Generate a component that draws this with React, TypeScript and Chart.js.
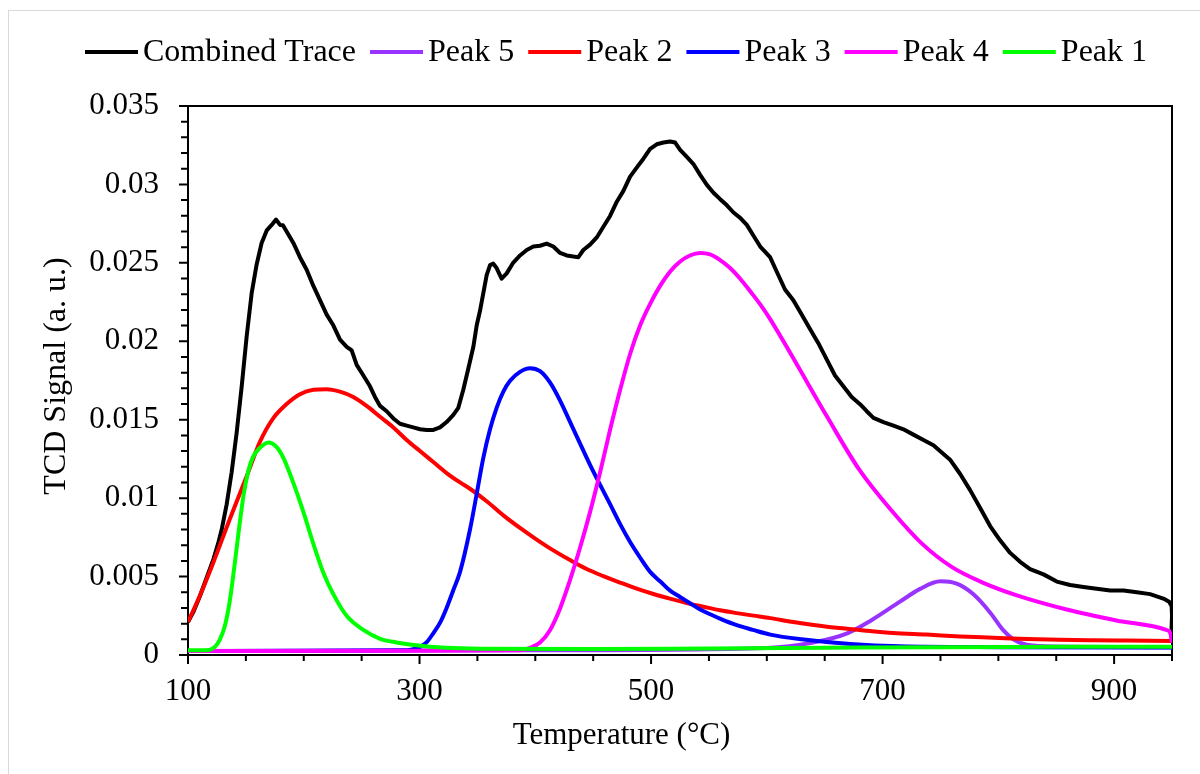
import { useEffect, useRef } from 'react';
import { Chart, registerables } from 'chart.js';

Chart.register(...registerables);

const FONT = '"Liberation Serif", "Times New Roman", serif';

// ---------- data (temperature in °C, TCD signal in a.u.) ----------
const combinedT = [
  100, 105, 110, 115, 121.9, 126, 129.1, 133.4, 137.7, 142, 146.4, 150.7, 155, 159.3, 163.6, 168, 172.3, 176,
  179.5, 182, 185.2, 191, 196.7, 202.5, 208.3, 214, 219.8, 225.5, 231.3, 237.1, 241.4, 245.7, 251.5, 257.2,
  261.5, 265.9, 271.6, 277.4, 283.1, 288.9, 294.6, 300.4, 306.2, 311.9, 317.7, 323.4, 329.2, 333.5, 337.8,
  342.2, 346.5, 349.4, 352.2, 355.1, 358, 360.9, 363.7, 366.6, 370.9, 375.3, 381, 386.8, 392.6, 398.3, 404.1,
  409.8, 415.6, 421.4, 427.1, 432.9, 437.2, 441.5, 447.3, 453.1, 458.8, 464.6, 470.4, 476.1, 481.9, 487.6,
  493.4, 499.2, 504.9, 510.7, 516.4, 520.8, 525.1, 530.9, 536.6, 542.4, 548.2, 553.9, 559.7, 565.5, 571.2,
  577, 582.7, 588.5, 594.3, 602.8, 608.5, 615.7, 622.9, 630.1, 637.3, 644.5, 651.7, 658.9, 666.1, 673.3,
  680.5, 686.3, 692.1, 700.7, 709.4, 718, 726.6, 735.3, 743.9, 751.1, 758.3, 767, 775.6, 784.3, 792.9, 801.5,
  810.2, 818.8, 827.4, 839, 850.5, 862, 873.5, 885, 896.6, 908.1, 919.6, 931.1, 942.5, 947.5, 949.7, 950, 949.6,
];
const combinedV = [
  0.0021, 0.0028, 0.0037, 0.0047, 0.0061, 0.0071, 0.008, 0.0096, 0.01165, 0.01416, 0.01713, 0.02033, 0.02307,
  0.0249, 0.02627, 0.02707, 0.02742, 0.02776, 0.02742, 0.0274, 0.027, 0.02627, 0.02536, 0.02456, 0.02353,
  0.02262, 0.0217, 0.02102, 0.0201, 0.01965, 0.01942, 0.0185, 0.01782, 0.01713, 0.01645, 0.01588, 0.01554,
  0.01508, 0.01474, 0.01462, 0.01451, 0.01439, 0.01435, 0.01435, 0.01451, 0.01485, 0.01531, 0.01576, 0.01691,
  0.01828, 0.01965, 0.02102, 0.02193, 0.02307, 0.02422, 0.02486, 0.02495, 0.02467, 0.02399, 0.02433, 0.02502,
  0.02547, 0.02582, 0.02604, 0.02609, 0.02623, 0.02604, 0.02563, 0.02547, 0.0254, 0.02536, 0.02582, 0.02616,
  0.02662, 0.0273, 0.02799, 0.0289, 0.02959, 0.0305, 0.03107, 0.03164, 0.03226, 0.03256, 0.03267, 0.03274,
  0.03267, 0.03221, 0.03176, 0.0313, 0.03061, 0.02997, 0.02947, 0.02906, 0.02867, 0.02821, 0.02787, 0.02742,
  0.02673, 0.02604, 0.02536, 0.02445, 0.0233, 0.02262, 0.0217, 0.02079, 0.01988, 0.01885, 0.01782, 0.01713,
  0.01645, 0.01599, 0.01554, 0.01512, 0.01485, 0.01462, 0.01439, 0.01405, 0.01371, 0.01337, 0.01291, 0.01245,
  0.01154, 0.01051, 0.00937, 0.00822, 0.00731, 0.00651, 0.00594, 0.00548, 0.00514, 0.00468, 0.00446, 0.00434,
  0.00423, 0.00411, 0.00411, 0.004, 0.00388, 0.0036, 0.0034, 0.0031, 0.0025, 0.0016,
];

const peak5T = [100, 400, 600, 640, 670, 690, 715, 732, 750, 764, 778, 793, 804, 813, 822, 840, 950];
const peak5V = [0.00025, 0.0003, 0.00045, 0.0008, 0.0014, 0.0022, 0.0034, 0.0042, 0.0047, 0.00455, 0.0039, 0.0027, 0.0016, 0.001, 0.0007, 0.00055, 0.0005];

const peak2T = [
  100, 110.4, 121.9, 136.3, 150.7, 162.2, 173.7, 185.2, 196.7, 208.3, 219.8, 231.3, 242.8, 254.3, 265.9, 277.4,
  288.9, 300.4, 311.9, 323.4, 335, 343.6, 358, 372.4, 386.8, 401.2, 415.6, 430, 444.4, 458.8, 473.2, 487.6, 502,
  516.4, 530.8, 545.2, 559.7, 574.1, 588.5, 603, 623, 652, 680, 709, 738, 767, 796, 825, 853, 882, 911, 950,
];
const peak2V = [
  0.0021, 0.0038, 0.0059, 0.0087, 0.0114, 0.0136, 0.0151, 0.016, 0.01663, 0.01691, 0.01695, 0.01679, 0.01645,
  0.01588, 0.01519, 0.01451, 0.01371, 0.013, 0.0123, 0.0116, 0.011, 0.0106, 0.0098, 0.0089, 0.0081, 0.00736,
  0.00667, 0.00605, 0.00548, 0.00503, 0.00462, 0.00423, 0.00389, 0.00359, 0.00331, 0.00308, 0.00285, 0.00267,
  0.00251, 0.00235, 0.0021, 0.0018, 0.0016, 0.0014, 0.0013, 0.00118, 0.0011, 0.00102, 0.00097, 0.00094, 0.00092,
  0.0009,
];

const peak3T = [
  100, 200, 290, 300, 306, 312, 318, 323.4, 329, 335, 343.6, 349.4, 355.1, 360.9, 366.6, 372.4, 378.2, 386.8,
  395.5, 404.1, 412.8, 421.4, 430.1, 438.7, 447.4, 456, 464.7, 473.3, 481.9, 490.6, 499.2, 507.8, 516.5, 525,
  533.7, 542.4, 551, 560, 574, 588, 603, 630, 672, 715, 800, 950,
];
const peak3V = [
  0.00025, 0.00027, 0.0003, 0.0005, 0.0008, 0.0014, 0.0021, 0.003, 0.0041, 0.0053, 0.008, 0.01028, 0.01257,
  0.01439, 0.01576, 0.01679, 0.01748, 0.01805, 0.01828, 0.01809, 0.01736, 0.01622, 0.01485, 0.01348, 0.01211,
  0.01085, 0.0096, 0.00834, 0.0072, 0.0062, 0.0053, 0.0047, 0.0041, 0.0037, 0.0033, 0.0029, 0.0026, 0.0023,
  0.0019, 0.0016, 0.0013, 0.001, 0.0007, 0.00055, 0.0005, 0.00048,
];

const peak4T = [
  100, 300, 386.8, 395.5, 404.1, 412.8, 421.4, 430.1, 438.7, 447.4, 456, 464.7, 473.3, 481.9, 490.6, 499.2,
  507.8, 516.5, 525.1, 533.6, 542.4, 551, 559.7, 568.3, 577, 585.6, 594.3, 603, 623, 652, 680, 709, 734, 760,
  787, 816, 859, 902, 945, 948.5, 950,
];
const peak4V = [
  0.00025, 0.00027, 0.0003, 0.00046, 0.0008, 0.0016, 0.00297, 0.0048, 0.00685, 0.00914, 0.01165, 0.01439,
  0.01691, 0.01919, 0.02102, 0.02239, 0.02353, 0.02445, 0.02509, 0.02547, 0.02563, 0.02554, 0.02518, 0.02467,
  0.02399, 0.02319, 0.02235, 0.0214, 0.0189, 0.0152, 0.0118, 0.0091, 0.0071, 0.0056, 0.0046, 0.0038, 0.0029,
  0.0022, 0.0016, 0.0014, 0.0008,
];

const peak1T = [
  100, 110, 118, 123, 127.6, 132, 136, 140, 144, 148, 152, 156, 162, 169.5, 176.6, 182.4, 191, 199.6, 208.3,
  216.9, 225.5, 237, 251.5, 266, 280, 295, 323, 352, 450, 550, 650, 750, 850, 950,
];
const peak1V = [
  0.0003, 0.0003, 0.00032, 0.0005, 0.001, 0.0019, 0.0034, 0.0056, 0.008, 0.0102, 0.0117, 0.0126, 0.0132,
  0.01355, 0.01325, 0.01257, 0.01097, 0.00914, 0.00708, 0.00525, 0.00388, 0.0025, 0.0016, 0.00103, 0.0008,
  0.00064, 0.00046, 0.0004, 0.00038, 0.00042, 0.00046, 0.0005, 0.00052, 0.00053,
];

const xMajorTicks = [100, 300, 500, 700, 900];
const yMajorTicks = [0, 0.005, 0.01, 0.015, 0.02, 0.025, 0.03, 0.035];
const xMinorStep = 50;
const yMinorStep = 0.001;

const xTitle = 'Temperature (°C)';
const yTitle = 'TCD Signal (a. u.)';

const seriesNames = ['Combined Trace', 'Peak 5', 'Peak 2', 'Peak 3', 'Peak 4', 'Peak 1'];
const seriesColors = ['#000000', '#9933FF', '#FF0000', '#0000FF', '#FF00FF', '#00FF00'];
const seriesT = [combinedT, peak5T, peak2T, peak3T, peak4T, peak1T];
const seriesV = [combinedV, peak5V, peak2V, peak3V, peak4V, peak1V];

// ---------- plugins ----------
const frameAndTicks = {
  id: 'frameAndTicks',
  beforeDatasetsDraw(chart: any) {
    const { ctx, chartArea: a } = chart;
    const xs = chart.scales.x;
    const ys = chart.scales.y;
    ctx.save();
    ctx.strokeStyle = '#000';
    ctx.lineWidth = 2;
    ctx.strokeRect(a.left, a.top, a.right - a.left, a.bottom - a.top);
    ctx.beginPath();
    const nx = Math.round((xs.max - xs.min) / xMinorStep);
    for (let i = 0; i <= nx; i++) {
      const v = xs.min + i * xMinorStep;
      const px = xs.getPixelForValue(v);
      const major = xMajorTicks.some((t) => Math.abs(t - v) < 1e-9);
      ctx.moveTo(px, a.bottom);
      ctx.lineTo(px, a.bottom + (major ? 9 : 6));
    }
    const ny = Math.round((ys.max - ys.min) / yMinorStep);
    for (let i = 0; i <= ny; i++) {
      const v = ys.min + i * yMinorStep;
      const py = ys.getPixelForValue(v);
      const major = yMajorTicks.some((t) => Math.abs(t - v) < 1e-9);
      ctx.moveTo(a.left, py);
      ctx.lineTo(a.left - (major ? 9 : 7), py);
    }
    ctx.stroke();
    ctx.restore();
  },
  afterDraw(chart: any) {
    const { ctx } = chart;
    ctx.save();
    ctx.fillStyle = '#000';
    ctx.textAlign = 'center';
    ctx.textBaseline = 'middle';
    // x-axis title (centred on the whole chart object, as in the source)
    ctx.font = `31px ${FONT}`;
    ctx.fillText(xTitle, 612.5, 725);
    // y-axis title
    ctx.font = `32px ${FONT}`;
    ctx.translate(48, 365);
    ctx.rotate(-Math.PI / 2);
    ctx.fillText(yTitle, 0, 0);
    ctx.restore();
  },
};

const lineLegend = {
  id: 'lineLegend',
  afterDraw(chart: any) {
    const { ctx } = chart;
    ctx.save();
    ctx.font = `32px ${FONT}`;
    ctx.textBaseline = 'middle';
    ctx.textAlign = 'left';
    let x = 76;
    const y = 41;
    chart.data.datasets.forEach((ds: any) => {
      ctx.strokeStyle = ds.borderColor;
      ctx.lineWidth = 4;
      ctx.beginPath();
      ctx.moveTo(x, y);
      ctx.lineTo(x + 53, y);
      ctx.stroke();
      x += 53 + 5;
      ctx.fillStyle = '#000';
      ctx.fillText(ds.label, x, y + 1);
      x += ctx.measureText(ds.label).width + 14;
    });
    ctx.restore();
  },
};

export default function App() {
  const canvasRef = useRef<HTMLCanvasElement | null>(null);

  useEffect(() => {
    if (!canvasRef.current) return;
    const n = seriesNames.length;
    const datasets = seriesNames.map((name, i) => ({
      label: name,
      data: seriesT[i].map((t, k) => ({ x: t, y: seriesV[i][k] })),
      borderColor: seriesColors[i],
      backgroundColor: seriesColors[i],
      borderWidth: 4,
      pointRadius: 0,
      pointHoverRadius: 0,
      fill: false,
      tension: i === 0 ? 0 : 0.4,
      cubicInterpolationMode: i === 0 ? 'default' : 'monotone',
      borderJoinStyle: 'round',
      order: n - i,
    }));

    const chart = new Chart(canvasRef.current, {
      type: 'line',
      data: { datasets } as any,
      options: {
        animation: false,
        responsive: true,
        maintainAspectRatio: false,
        layout: { padding: { left: 25, right: 28, top: 95, bottom: 15 } },
        plugins: {
          legend: { display: false },
          tooltip: { enabled: false },
        },
        events: [],
        scales: {
          x: {
            type: 'linear',
            min: 100,
            max: 950,
            afterBuildTicks: (s: any) => {
              s.ticks = xMajorTicks.map((value) => ({ value }));
            },
            afterFit: (s: any) => {
              s.height = 104;
            },
            grid: { display: false, drawTicks: false },
            border: { display: false },
            ticks: {
              color: '#000',
              font: { family: FONT, size: 31 },
              padding: 18,
              maxRotation: 0,
              autoSkip: false,
              callback: (v: any) => String(v),
            },
            title: { display: false },
          },
          y: {
            type: 'linear',
            min: 0,
            max: 0.035,
            afterBuildTicks: (s: any) => {
              s.ticks = yMajorTicks.map((value) => ({ value }));
            },
            afterFit: (s: any) => {
              s.width = 154;
            },
            grid: { display: false, drawTicks: false },
            border: { display: false },
            ticks: {
              color: '#000',
              font: { family: FONT, size: 31 },
              padding: 29,
              autoSkip: false,
              callback: (v: any) => String(Number(Number(v).toFixed(3))),
            },
            title: { display: false },
          },
        },
      } as any,
      plugins: [frameAndTicks, lineLegend],
    });
    return () => chart.destroy();
  }, []);

  return (
    <div
      style={{
        position: 'absolute',
        left: 8,
        top: 10,
        width: 1192,
        height: 764,
        boxSizing: 'border-box',
        borderTop: '1px solid #d9d9d9',
        borderLeft: '1px solid #d9d9d9',
        background: '#fff',
      }}
    >
      <div style={{ position: 'relative', width: 1191, height: 763 }}>
        <canvas ref={canvasRef} />
      </div>
    </div>
  );
}
